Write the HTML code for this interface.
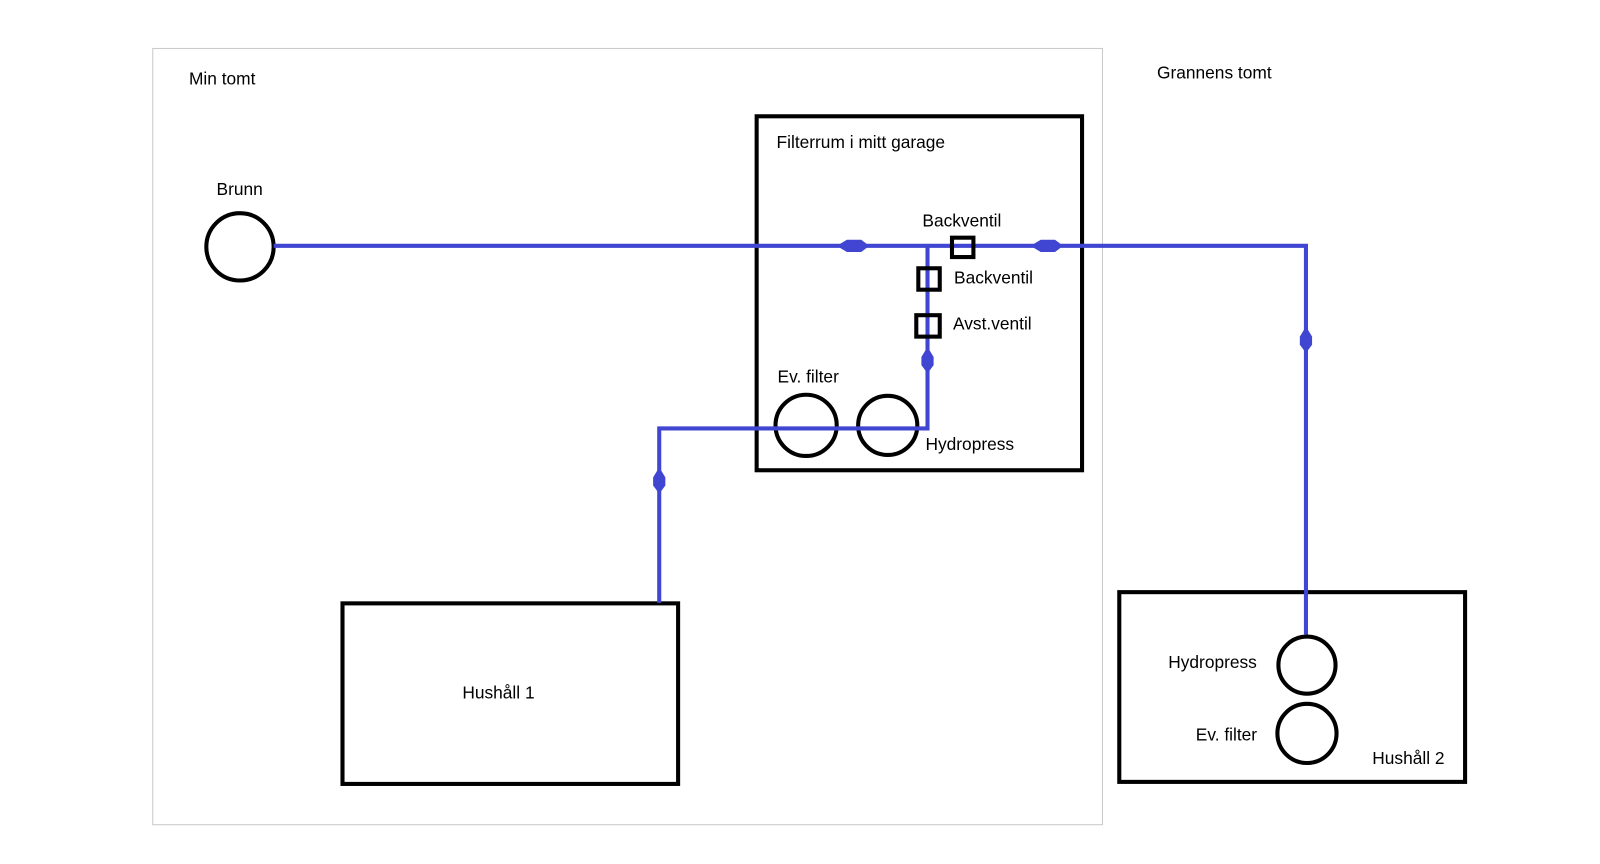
<!DOCTYPE html>
<html><head><meta charset="utf-8"><style>
body{margin:0;background:#fff}
svg text{font-family:"Liberation Sans","DejaVu Sans",sans-serif;font-size:17px;fill:#000}
</style></head><body>
<svg width="1600" height="864" viewBox="0 0 1568 847" xmlns="http://www.w3.org/2000/svg" style="display:block">
<rect x="149.5" y="47.5" width="931" height="761" fill="none" stroke="#c8c8c8" stroke-width="1"/>
<text x="185" y="83">Min tomt</text>
<text x="1134" y="77">Grannens tomt</text>
<rect x="741.5" y="114" width="319" height="347" fill="none" stroke="#000" stroke-width="4"/>
<text x="761" y="145">Filterrum i mitt garage</text>
<rect x="335.5" y="591.5" width="329" height="177" fill="none" stroke="#000" stroke-width="4"/>
<text x="453" y="685">Hushåll 1</text>
<rect x="1097" y="580.5" width="339" height="186" fill="none" stroke="#000" stroke-width="4"/>
<text x="1345" y="749">Hushåll 2</text>
<text x="1145" y="655">Hydropress</text>
<text x="1172" y="726">Ev. filter</text>
<text x="212" y="191">Brunn</text>
<text x="904" y="222">Backventil</text>
<text x="935" y="278">Backventil</text>
<text x="934" y="323">Avst.ventil</text>
<text x="762" y="375">Ev. filter</text>
<text x="907" y="441">Hydropress</text>
<g fill="none" stroke="#000" stroke-width="4">
<circle cx="235" cy="242" r="33"/>
<circle cx="790" cy="417" r="30"/>
<circle cx="870" cy="417" r="29"/>
<circle cx="1281" cy="652" r="28"/>
<circle cx="1281" cy="719" r="29"/>
</g>
<g fill="none" stroke="#4146d2" stroke-width="4">
<polyline points="268,241 1280,241 1280,622"/>
<polyline points="909,241 909,420 646,420 646,591"/>
</g>
<g fill="#4146d2">
<polygon points="820,241 830,235 844,235 852,241 844,247 830,247"/>
<polygon points="1010,241 1020,235 1034,235 1042,241 1034,247 1020,247"/>
<polygon points="1280,320 1286,330 1286,338 1280,346 1274,338 1274,330"/>
<polygon points="909,340 915,350 915,358 909,366 903,358 903,350"/>
<polygon points="646,458 652,468 652,476 646,484 640,476 640,468"/>
</g>
<g fill="none" stroke="#000" stroke-width="4">
<rect x="933" y="233" width="21" height="19"/>
<rect x="900" y="263" width="21" height="21"/>
<rect x="898" y="309" width="23" height="21"/>
</g>
</svg>
</body></html>
